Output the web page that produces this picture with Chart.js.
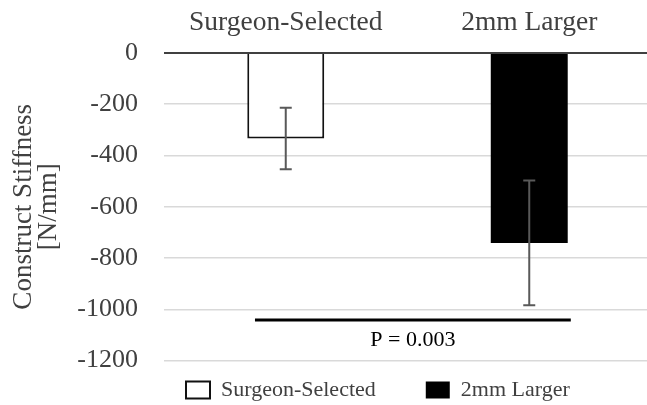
<!DOCTYPE html>
<html>
<head>
<meta charset="utf-8">
<script src="https://cdn.jsdelivr.net/npm/chart.js@4.4.1/dist/chart.umd.min.js"></script>
<style>
  html, body { margin: 0; padding: 0; background: #fff; overflow: hidden; }
  #wrap { width: 651px; height: 405px; }
</style>
</head>
<body>
<div id="wrap"><canvas id="stiffnessChart" width="651" height="405"></canvas></div>
<script>
// values
const categories = ["Surgeon-Selected", "2mm Larger"];
const meanStiffness = [-334, -741];
const sdStiffness = [120, 243];
const yTicks = [0, -200, -400, -600, -800, -1000, -1200];
const sigLineValue = -1042;
const sigLabel = "P = 0.003";

const serif = "'Liberation Serif', 'Times New Roman', serif";
const textGray = "#404040";

// error bars (mean +/- sd) on top of each bar
const errorBarPlugin = {
  id: "errorBars",
  afterDatasetsDraw(chart) {
    const ctx = chart.ctx;
    const y = chart.scales.y;
    ctx.save();
    ctx.strokeStyle = "#595959";
    ctx.lineWidth = 2;
    categories.forEach((cat, i) => {
      const bar = chart.getDatasetMeta(i).data[i];
      const top = y.getPixelForValue(meanStiffness[i] + sdStiffness[i]);
      const bottom = y.getPixelForValue(meanStiffness[i] - sdStiffness[i]);
      const cap = 6;
      ctx.beginPath();
      ctx.moveTo(bar.x, top);
      ctx.lineTo(bar.x, bottom);
      ctx.moveTo(bar.x - cap, top);
      ctx.lineTo(bar.x + cap, top);
      ctx.moveTo(bar.x - cap, bottom);
      ctx.lineTo(bar.x + cap, bottom);
      ctx.stroke();
    });
    ctx.restore();
  }
};

// significance line with p value under it
const sigPlugin = {
  id: "sigLine",
  afterDatasetsDraw(chart) {
    const ctx = chart.ctx;
    const y = chart.scales.y;
    const b0 = chart.getDatasetMeta(0).data[0];
    const b1 = chart.getDatasetMeta(1).data[1];
    const left = b0.x - b0.width * 0.4;
    const right = b1.x + b1.width * 0.54;
    const yy = y.getPixelForValue(sigLineValue);
    ctx.save();
    ctx.strokeStyle = "#000";
    ctx.lineWidth = 3;
    ctx.beginPath();
    ctx.moveTo(left, yy);
    ctx.lineTo(right, yy);
    ctx.stroke();
    ctx.fillStyle = "#000";
    ctx.font = "22px " + serif;
    ctx.textAlign = "center";
    ctx.textBaseline = "middle";
    ctx.fillText(sigLabel, (left + right) / 2, yy + 20);
    ctx.restore();
  }
};

// put the legend row where the figure has it
const legendPlacement = {
  id: "legendPlacement",
  afterLayout(chart) {
    const lg = chart.legend;
    const w = lg.width;
    lg.left = 136;
    lg.right = 136 + w;
    lg.top = 329;
    lg.bottom = chart.height;
    lg.height = lg.bottom - lg.top;
  }
};

const ctx = document.getElementById("stiffnessChart").getContext("2d");
new Chart(ctx, {
  type: "bar",
  data: {
    labels: categories,
    datasets: [
      {
        label: categories[0],
        data: categories.map((c, j) => (j === 0 ? meanStiffness[0] : null)),
        backgroundColor: "#ffffff",
        borderColor: "#111111",
        borderWidth: 2,
        borderSkipped: "start"
      },
      {
        label: categories[1],
        data: categories.map((c, j) => (j === 1 ? meanStiffness[1] : null)),
        backgroundColor: "#000000",
        borderColor: "#000000",
        borderWidth: 0
      }
    ]
  },
  options: {
    responsive: false,
    animation: false,
    layout: { padding: 0 },
    datasets: {
      bar: { grouped: false, categoryPercentage: 1, barPercentage: 0.316 }
    },
    scales: {
      x: {
        position: "top",
        grid: { display: false, drawTicks: false },
        border: { display: false },
        ticks: {
          color: textGray,
          padding: 14,
          font: { family: serif, size: 27.5 }
        },
        afterFit: (scale) => { scale.height = 53; }
      },
      y: {
        min: -1200,
        max: 0,
        afterBuildTicks: (scale) => {
          scale.ticks = yTicks.map((v) => ({ value: v }));
        },
        grid: {
          drawTicks: false,
          color: (c) => (c.tick && c.tick.value === 0 ? "#404040" : "#d9d9d9"),
          lineWidth: (c) => (c.tick && c.tick.value === 0 ? 2 : 1.5)
        },
        border: { display: false },
        ticks: {
          color: textGray,
          padding: 26,
          font: { family: serif, size: 26 },
          callback: (v) => String(v)
        },
        title: {
          display: true,
          text: ["Construct Stiffness", "[N/mm]"],
          color: textGray,
          padding: { top: 11, bottom: 0 },
          font: { family: serif, size: 27, lineHeight: "25px" }
        },
        afterFit: (scale) => { scale.width = 164; }
      }
    },
    plugins: {
      legend: {
        position: "bottom",
        align: "start",
        maxHeight: 44.5,
        labels: {
          color: textGray,
          boxWidth: 24,
          boxHeight: 17,
          padding: 50,
          font: { family: serif, size: 22 }
        }
      },
      tooltip: { enabled: false }
    }
  },
  plugins: [errorBarPlugin, sigPlugin, legendPlacement]
});
</script>
</body>
</html>
